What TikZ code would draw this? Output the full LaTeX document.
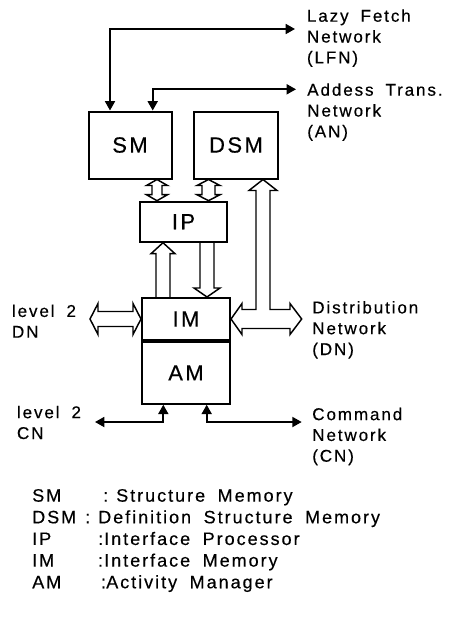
\documentclass[tikz,border=0pt]{standalone}
\usepackage{fontspec}
\setmainfont{Liberation Sans}[LetterSpace=11,WordSpace=1.8,FakeBold=0.4]
\usetikzlibrary{positioning,calc,arrows.meta}
\tikzset{
    unit/.style={
        draw,
        line width=1.5pt,
        inner sep=0pt,
        font=\fontsize{16.5}{18}\selectfont
    },
    label/.style={
        inner sep=0pt,
        align=left,
        anchor=base west,
        font=\fontsize{12.8}{15.6}\selectfont
    },
    legend/.style={
        inner sep=0pt,
        anchor=base west,
        font=\fontsize{13.5}{16}\selectfont
    },
    link/.style={
        {Triangle[length=7pt,width=7.5pt]}-{Triangle[length=7pt,width=7.5pt]},
        line width=1.3pt
    },
    block/.style={line width=1.1pt, line join=miter}
}

\begin{document}
\begin{tikzpicture}[x=0.75pt, y=-0.75pt]
\useasboundingbox (0,0) rectangle (459,640);

% UNITS
\node[unit, minimum width=62.25pt, minimum height=50.25pt] (sm) at (130,145) {SM};
\node[unit, minimum width=63pt, minimum height=50.25pt] (dsm) at (236,145) {DSM};
\node[unit, minimum width=65.25pt, minimum height=30pt] (ip) at (183.5,221.7) {IP};
\node[unit, minimum width=66pt, minimum height=31.5pt] (im) at (186,319) {IM};
\node[unit, minimum width=66pt, minimum height=46.3pt, below=0pt of im] (am) {AM};

% NETWORK LABELS (placed by the baseline of their last line)
\node[label] (lfn) at (306.7,63.3) {Lazy Fetch\\Network\\(LFN)};
\node[label] (an) at (307,137.3) {Addess Trans.\\Network\\(AN)};
\node[label] (dn) at (312,355) {Distribution\\Network\\(DN)};
\node[label] (cn) at (312,461.7) {Command\\Network\\(CN)};
\node[label] (ldn) at (11.7,337.7) {level 2\\DN};
\node[label] (lcn) at (16.7,439) {level 2\\CN};

\coordinate (lfn end) at (295,29);
\coordinate (an end) at (296,89.3);
\coordinate (dn end) at (301.7,319);
\coordinate (ldn end) at (90,319);
\coordinate (cn end) at (301.7,422);
\coordinate (lcn end) at (95,422);

% THIN LINKS
\draw[link] (110,0 |- sm.north) |- (lfn end);
\draw[link] (152.7,0 |- sm.north) |- (an end);
\draw[link] (163.3,0 |- am.south) |- (lcn end);
\draw[link] (206.7,0 |- am.south) |- (cn end);

% BLOCK ARROWS
\draw[block] (157,0 |- sm.south) -- ++(10.5,6) -- ++(-5.5,0)
    -- ($(157,0 |- ip.north)+(5,-6)$) -- ++(5.5,0) -- (157,0 |- ip.north)
    -- ++(-10.5,-6) -- ++(5.5,0) -- ($(157,0 |- sm.south)+(-5,6)$) -- ++(-5.5,0) -- cycle;
\draw[block] (208.5,0 |- dsm.south) -- ++(11.5,6) -- ++(-5,0)
    -- ($(208.5,0 |- ip.north)+(6.5,-6)$) -- ++(5,0) -- (208.5,0 |- ip.north)
    -- ++(-11.5,-6) -- ++(5,0) -- ($(208.5,0 |- dsm.south)+(-6.5,6)$) -- ++(-5,0) -- cycle;
\draw[block] ($(163,0 |- im.north)+(-7,0)$) -- ($(163,0 |- ip.south)+(-7,11)$)
    -- ++(-5,0) -- (163,0 |- ip.south) -- ++(12,11) -- ++(-5,0)
    -- ($(163,0 |- im.north)+(7,0)$);
\draw[block] ($(207,0 |- ip.south)+(-7,0)$) -- ($(207,0 |- im.north)+(-7,-9)$)
    -- ++(-6,0) -- (207,0 |- im.north) -- ++(13,-9) -- ++(-6,0)
    -- ($(207,0 |- ip.south)+(7,0)$);
\draw[block] (ldn end) -- ++(8,-15.5) -- ++(0,8) -- ($(im.west)+(-8,-7.5)$)
    -- ++(0,-8) -- (im.west) -- ++(-8,15.5) -- ++(0,-8)
    -- ($(ldn end)+(8,7.5)$) -- ++(0,8) -- cycle;
\draw[block] (263,0 |- dsm.south) -- ++(14,11) -- ++(-7,0)
    |- ($(dn end)+(-11.7,-9.5)$) -- ++(0,-6) -- (dn end) -- ++(-11.7,15.5) -- ++(0,-6)
    -- ($(im.east)+(11,9.5)$) -- ++(0,6) -- (im.east) -- ++(11,-15.5) -- ++(0,6)
    -| ($(263,0 |- dsm.south)+(-7,11)$) -- ++(-7,0) -- cycle;

% LEGEND
\foreach \abbr/\cx/\dx/\desc [count=\i] in {
    SM/103/116/Structure Memory,
    DSM/85/98/Definition Structure Memory,
    IP/98/104/Interface Processor,
    IM/97.7/104/Interface Memory,
    AM/100.7/106/Activity Manager} {
    \node[legend] (abbr\i) at (32,480+21.65*\i) {\abbr};
    \node[legend] (colon\i) at (\cx,480+21.65*\i) {:};
    \node[legend] (desc\i) at (\dx,480+21.65*\i) {\desc};
}

\end{tikzpicture}
\end{document}
